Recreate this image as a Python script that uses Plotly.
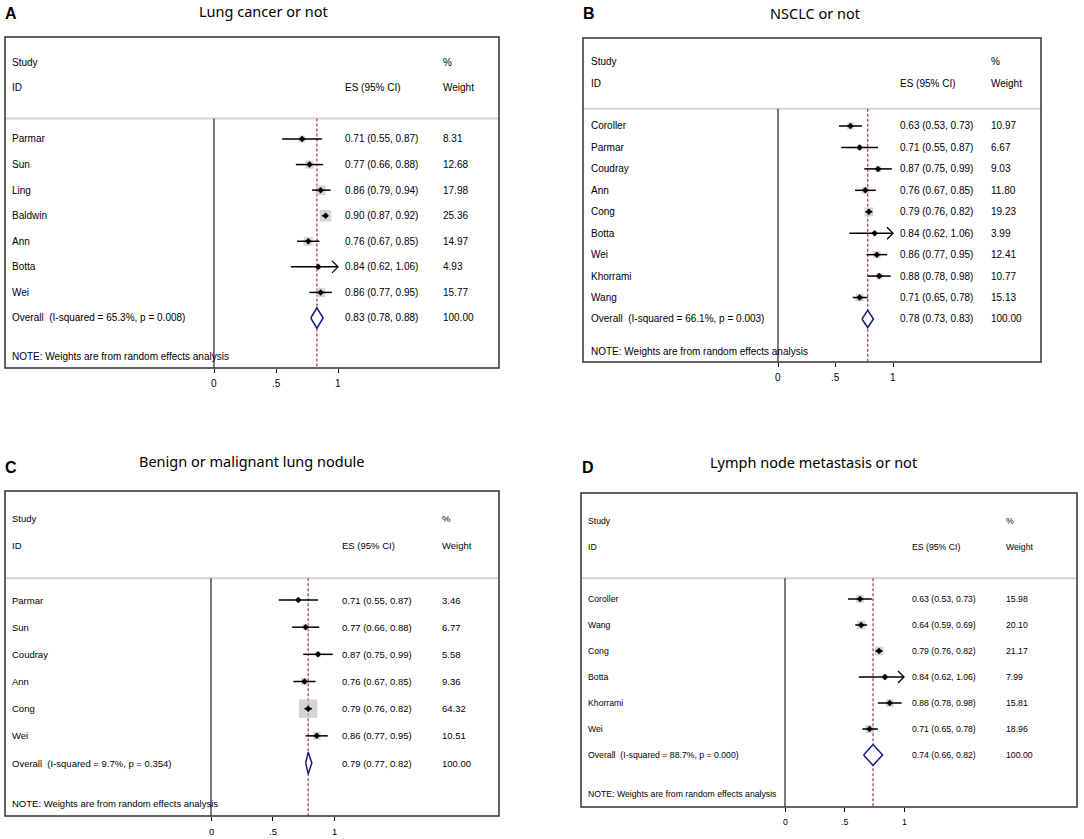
import math
import plotly.graph_objects as go

# ---------------- data ----------------
PANEL_LETTERS = ["A", "B", "C", "D"]
PANEL_TITLES = ["Lung cancer or not", "NSCLC or not",
                "Benign or malignant lung nodule", "Lymph node metastasis or not"]

A_STUDIES = ["Parmar", "Sun", "Ling", "Baldwin", "Ann", "Botta", "Wei"]
A_ES = [0.71, 0.77, 0.86, 0.90, 0.76, 0.84, 0.86]
A_LO = [0.55, 0.66, 0.79, 0.87, 0.67, 0.62, 0.77]
A_HI = [0.87, 0.88, 0.94, 0.92, 0.85, 1.06, 0.95]
A_WEIGHT = [8.31, 12.68, 17.98, 25.36, 14.97, 4.93, 15.77]
A_OVERALL = [0.83, 0.78, 0.88]
A_I2 = 65.3
A_P = 0.008

B_STUDIES = ["Coroller", "Parmar", "Coudray", "Ann", "Cong", "Botta", "Wei", "Khorrami", "Wang"]
B_ES = [0.63, 0.71, 0.87, 0.76, 0.79, 0.84, 0.86, 0.88, 0.71]
B_LO = [0.53, 0.55, 0.75, 0.67, 0.76, 0.62, 0.77, 0.78, 0.65]
B_HI = [0.73, 0.87, 0.99, 0.85, 0.82, 1.06, 0.95, 0.98, 0.78]
B_WEIGHT = [10.97, 6.67, 9.03, 11.80, 19.23, 3.99, 12.41, 10.77, 15.13]
B_OVERALL = [0.78, 0.73, 0.83]
B_I2 = 66.1
B_P = 0.003

C_STUDIES = ["Parmar", "Sun", "Coudray", "Ann", "Cong", "Wei"]
C_ES = [0.71, 0.77, 0.87, 0.76, 0.79, 0.86]
C_LO = [0.55, 0.66, 0.75, 0.67, 0.76, 0.77]
C_HI = [0.87, 0.88, 0.99, 0.85, 0.82, 0.95]
C_WEIGHT = [3.46, 6.77, 5.58, 9.36, 64.32, 10.51]
C_OVERALL = [0.79, 0.77, 0.82]
C_I2 = 9.7
C_P = 0.354

D_STUDIES = ["Coroller", "Wang", "Cong", "Botta", "Khorrami", "Wei"]
D_ES = [0.63, 0.64, 0.79, 0.84, 0.88, 0.71]
D_LO = [0.53, 0.59, 0.76, 0.62, 0.78, 0.65]
D_HI = [0.73, 0.69, 0.82, 1.06, 0.98, 0.78]
D_WEIGHT = [15.98, 20.10, 21.17, 7.99, 15.81, 18.96]
D_OVERALL = [0.74, 0.66, 0.82]
D_I2 = 88.7
D_P = 0.000

X_TICKS = [0, 0.5, 1]
X_TICK_LABELS = ["0", ".5", "1"]
X_CLIP = 1.0

# ---------------- layout geometry (pixels) ----------------
W, H = 1084, 839
GEOM = [
    dict(box=(5, 37, 499, 368), zero=214, one=338, row0=139, sp=25.57, fs=10,
         name=10, es=343, wt=441, title=(263, 11), letter=(11, 14), k=2.3),
    dict(box=(583, 38, 1041, 362), zero=778, one=893, row0=126, sp=21.44, fs=10,
         name=589, es=898, wt=989, title=(815, 13), letter=(589, 14), k=2.0),
    dict(box=(5, 491, 499, 816), zero=211, one=334, row0=600, sp=27.17, fs=9.5,
         name=10, es=340, wt=440, title=(252, 461), letter=(11, 467), k=2.3),
    dict(box=(581, 493, 1077, 807), zero=785, one=904, row0=599, sp=26.0, fs=8.7,
         name=586, es=910, wt=1004, title=(813, 462), letter=(588, 467), k=1.9),
]

PANELS = [
    (A_STUDIES, A_ES, A_LO, A_HI, A_WEIGHT, A_OVERALL, A_I2, A_P),
    (B_STUDIES, B_ES, B_LO, B_HI, B_WEIGHT, B_OVERALL, B_I2, B_P),
    (C_STUDIES, C_ES, C_LO, C_HI, C_WEIGHT, C_OVERALL, C_I2, C_P),
    (D_STUDIES, D_ES, D_LO, D_HI, D_WEIGHT, D_OVERALL, D_I2, D_P),
]

FONT = "Liberation Sans, Arial, sans-serif"
TITLE_FONT = "Noto Sans, Open Sans, sans-serif"
SQ_COLOR = "#c2c2c2"
DIAMOND_COLOR = "#1c1c80"
REF_COLOR = "#a8434f"


def px(x):
    return x / W


def py(y):
    return 1 - y / H


fig = go.Figure()
layout_axes = {}
shapes = []
annotations = []

for i, (geo, data) in enumerate(zip(GEOM, PANELS)):
    studies, es, lo, hi, wts, overall, i2, pval = data
    n = len(studies)
    xa = "x" if i == 0 else f"x{i+1}"
    ya = "y" if i == 0 else f"y{i+1}"
    xname = "xaxis" if i == 0 else f"xaxis{i+1}"
    yname = "yaxis" if i == 0 else f"yaxis{i+1}"
    l, t, r, b = geo["box"]
    unit = geo["one"] - geo["zero"]
    row_top = (t - geo["row0"]) / geo["sp"]
    row_bot = (b - geo["row0"]) / geo["sp"]
    sep_row = -0.8
    rows = list(range(n))
    ov_row = n
    note_row = n + 1.5

    layout_axes[xname] = dict(
        domain=[px(l), px(r)], anchor=ya,
        range=[(l - geo["zero"]) / unit, (r - geo["zero"]) / unit],
        tickvals=X_TICKS, ticks="outside", ticklen=4, showticklabels=False,
        tickwidth=1, tickcolor="#000", showgrid=False, zeroline=False, showline=False,
        fixedrange=True,
    )
    layout_axes[yname] = dict(
        domain=[py(b), py(t)], anchor=xa, range=[row_bot, row_top],
        visible=False, showgrid=False, zeroline=False, fixedrange=True,
    )

    # squares
    fig.add_trace(go.Scatter(
        x=es, y=rows, mode="markers", xaxis=xa, yaxis=ya, hoverinfo="skip",
        marker=dict(symbol="square", color=SQ_COLOR,
                    size=[geo["k"] * math.sqrt(w) for w in wts], line=dict(width=0)),
        showlegend=False))
    # CI lines
    cx, cy = [], []
    for rr, a, bb in zip(rows, lo, hi):
        cx += [a, min(bb, X_CLIP), None]
        cy += [rr, rr, None]
    fig.add_trace(go.Scatter(x=cx, y=cy, mode="lines", xaxis=xa, yaxis=ya,
                             line=dict(color="#000", width=1.5), hoverinfo="skip",
                             showlegend=False))
    # arrows for clipped CIs
    ax_, ay_ = [], []
    dx = 6 / unit
    dy = 6 / geo["sp"]
    for rr, bb in zip(rows, hi):
        if bb > X_CLIP:
            ax_ += [X_CLIP - dx, X_CLIP, X_CLIP - dx, None]
            ay_ += [rr - dy, rr, rr + dy, None]
    if ax_:
        fig.add_trace(go.Scatter(x=ax_, y=ay_, mode="lines", xaxis=xa, yaxis=ya,
                                 line=dict(color="#000", width=1.3), hoverinfo="skip",
                                 showlegend=False))
    # point estimates
    fig.add_trace(go.Scatter(
        x=es, y=rows, mode="markers", xaxis=xa, yaxis=ya, hoverinfo="skip",
        marker=dict(symbol="diamond", color="#000", size=5, line=dict(width=0)),
        showlegend=False))
    # overall diamond
    o_es, o_lo, o_hi = overall
    hh = 0.4
    fig.add_trace(go.Scatter(
        x=[o_lo, o_es, o_hi, o_es, o_lo], y=[ov_row, ov_row - hh, ov_row, ov_row + hh, ov_row],
        mode="lines", fill="toself", fillcolor="white", xaxis=xa, yaxis=ya,
        line=dict(color=DIAMOND_COLOR, width=1.5), hoverinfo="skip", showlegend=False))

    # shapes
    shapes.append(dict(type="line", xref=f"{xa} domain", yref=ya, x0=0, x1=1,
                       y0=sep_row, y1=sep_row, line=dict(color="#d4d4d4", width=2),
                       layer="below"))
    shapes.append(dict(type="line", xref=xa, yref=ya, x0=0, x1=0, y0=sep_row, y1=row_bot,
                       line=dict(color="#333", width=1.3), layer="below"))
    shapes.append(dict(type="line", xref=xa, yref=ya, x0=o_es, x1=o_es, y0=sep_row,
                       y1=row_bot, line=dict(color=REF_COLOR, width=1.3, dash="3px,2px"),
                       layer="below"))
    shapes.append(dict(type="rect", xref=f"{xa} domain", yref=f"{ya} domain", x0=0, x1=1,
                       y0=0, y1=1, line=dict(color="#333", width=1.5)))

    fs = geo["fs"]

    def txt(xpix, row, s, size=fs):
        annotations.append(dict(xref="paper", yref=ya, x=px(xpix), y=row, text=s,
                                showarrow=False, xanchor="left", yanchor="middle",
                                font=dict(family=FONT, size=size, color="#000")))

    txt(geo["name"], -3, "Study")
    txt(geo["name"], -2, "ID")
    txt(geo["es"], -2, "ES (95% CI)")
    txt(geo["wt"], -3, "%")
    txt(geo["wt"], -2, "Weight")
    for rr, s, e, a, bb, w in zip(rows, studies, es, lo, hi, wts):
        txt(geo["name"], rr, s)
        txt(geo["es"], rr, f"{e:.2f} ({a:.2f}, {bb:.2f})")
        txt(geo["wt"], rr, f"{w:.2f}")
    txt(geo["name"], ov_row, f"Overall  (I-squared = {i2:.1f}%, p = {pval:.3f})")
    txt(geo["es"], ov_row, f"{o_es:.2f} ({o_lo:.2f}, {o_hi:.2f})")
    txt(geo["wt"], ov_row, f"{100:.2f}")
    txt(geo["name"], note_row, "NOTE: Weights are from random effects analysis")

    # tick labels
    for tv, tl in zip(X_TICKS, X_TICK_LABELS):
        annotations.append(dict(xref=xa, yref="paper", x=tv, y=py(b + 15), text=tl,
                                showarrow=False, xanchor="center", yanchor="middle",
                                font=dict(family=FONT, size=fs, color="#000")))

    # title and letter
    tx, ty = geo["title"]
    annotations.append(dict(xref="paper", yref="paper", x=px(tx), y=py(ty),
                            text=PANEL_TITLES[i], showarrow=False, xanchor="center",
                            yanchor="middle",
                            font=dict(family=TITLE_FONT, size=14.5, color="#000")))
    lx, ly = geo["letter"]
    annotations.append(dict(xref="paper", yref="paper", x=px(lx), y=py(ly),
                            text=f"<b>{PANEL_LETTERS[i]}</b>", showarrow=False,
                            xanchor="center", yanchor="middle",
                            font=dict(family=FONT, size=16, color="#000")))

fig.update_layout(
    width=W, height=H, margin=dict(l=0, r=0, t=0, b=0),
    paper_bgcolor="white", plot_bgcolor="white",
    shapes=shapes, annotations=annotations, showlegend=False,
    **layout_axes,
)

fig.write_html("out.html", config={"displayModeBar": False},
               post_script="document.body.style.margin='0';document.body.style.padding='0';")
